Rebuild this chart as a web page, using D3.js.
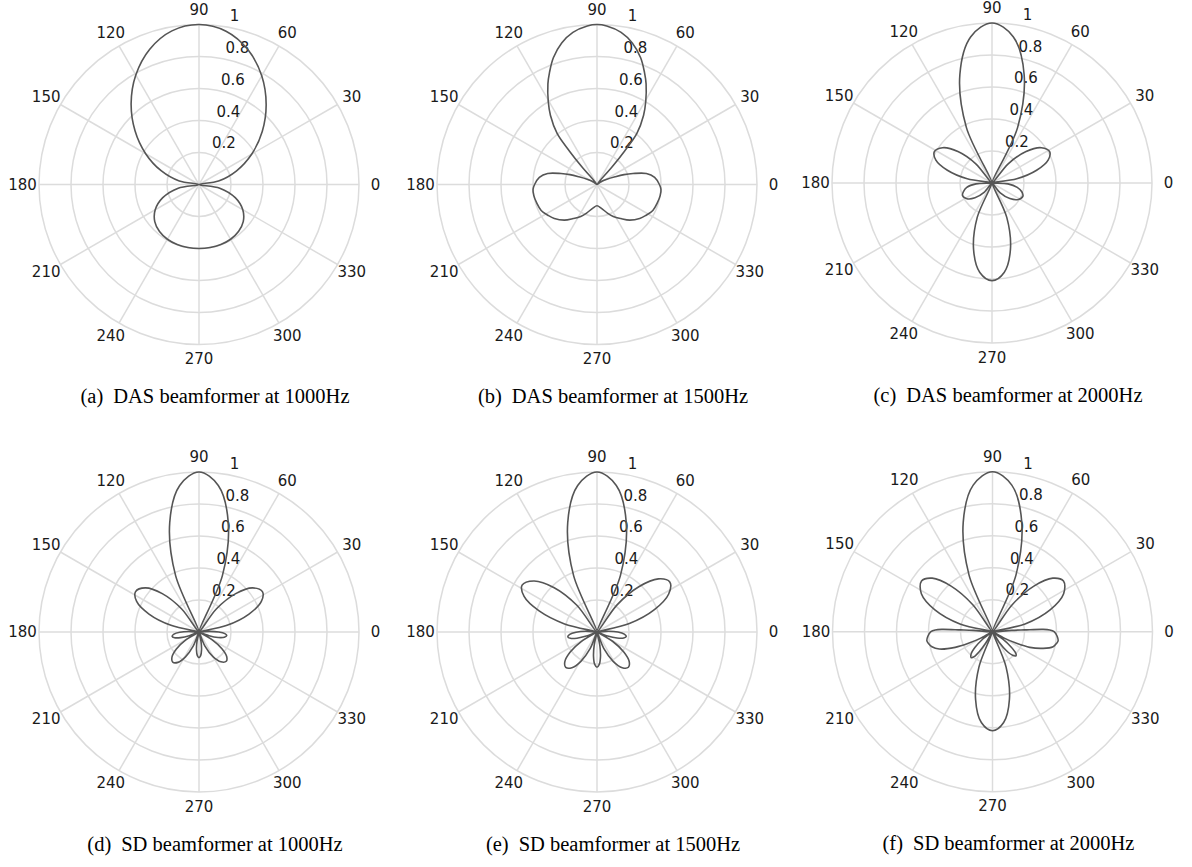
<!DOCTYPE html>
<html><head><meta charset="utf-8">
<script src="https://cdn.jsdelivr.net/npm/d3@7"></script>
<style>body{margin:0;background:#fff} svg{display:block}</style>
</head><body>
<svg id="chart" width="1192" height="867"></svg>
<script>
// ---- tick labels ----
const angleTicks = [0,30,60,90,120,150,180,210,240,270,300,330];
const radialTicks = [0.2,0.4,0.6,0.8,1];
const radialTickLabels = ["0.2","0.4","0.6","0.8","1"];
const panelTags = ["(a)","(b)","(c)","(d)","(e)","(f)"];
const panelTitles = ["DAS beamformer at 1000Hz","DAS beamformer at 1500Hz","DAS beamformer at 2000Hz",
                     "SD beamformer at 1000Hz","SD beamformer at 1500Hz","SD beamformer at 2000Hz"];

// ---- series (angle in degrees, normalised gain) ----
const dasAng1000 = [0,10,20,30,40,50,60,70,80,90,100,110,120,130,140,150,160,170,180,190,200,210,220,230,240,250,260,270,280,290,300,310,320,330,340,350];
const dasGain1000 = [0,.124,.25,.381,.516,.653,.784,.896,.973,1,.975,.9,.79,.66,.522,.385,.252,.125,0,.132,.241,.316,.361,.384,.395,.399,.4,.4,.4,.399,.395,.384,.361,.316,.241,.132];

const dasAng1500 = [0,7,12.6,17,20,23,28,35,45,49.5,50.5,52,56,59.5,64,67,71,76,81,86.5,90,93.5,99,104,109,113,116,120.5,124,128,129.5,130.5,135,145,152,157,160,163,167.4,173,180,184.3,190,197,205,212,218.5,227.5,235,243,250,260,270,280,290,297,305,312.5,321.5,328,335,343,350,355.7];
const dasGain1500 = [.39,.363,.316,.235,.18,.123,.07,.03,0,.15,.27,.405,.52,.6,.7,.76,.838,.912,.963,.993,1,.993,.963,.912,.838,.76,.7,.6,.52,.405,.27,.15,0,.03,.07,.123,.18,.235,.316,.363,.39,.401,.401,.394,.385,.362,.341,.302,.26,.224,.19,.15,.133,.15,.19,.224,.26,.302,.341,.362,.385,.394,.401,.401];

const dasAng2000 = [3.5,9.75,16,22.25,28.5,35.6,42.75,49.9,57,65.25,73.5,81.75,90,98.25,106.5,114.75,123,130.1,137.25,144.4,151.5,157.75,164,170.25,176.5,183.1,189.75,196.4,203,212,221,230,239,246.75,254.5,262.25,270,277.75,285.5,293.25,301,310,319,328,337,343.6,350.25,356.9];
const dasGain2000 = [0,.157,.29,.379,.41,.379,.29,.157,0,.383,.707,.924,1,.924,.707,.383,0,.157,.29,.379,.41,.379,.29,.157,0,.1,.16,.185,.2,.185,.141,.077,0,.234,.431,.564,.61,.564,.431,.234,0,.08,.148,.194,.21,.194,.16,.1];

const sdAng1000 = [0,3.5,7,13.4,19.75,26.1,32.5,39.4,46.25,53.1,60,67.5,75,82.5,90,97.5,105,112.5,120,126.9,133.75,140.6,147.5,153.9,160.25,166.6,173,177,181,185,189,193,197,201,205,211,217,223,229,235.25,241.5,247.75,254,258,262,266,270,274,278,282,286,292.75,299.5,306.25,313,318.5,324,329.5,335,339.5,344,348.5,353,356.5];
const sdGain1000 = [.124,.067,0,.18,.332,.434,.47,.434,.332,.18,0,.383,.707,.924,1,.924,.707,.383,0,.18,.332,.434,.47,.434,.332,.18,0,.065,.12,.157,.17,.157,.12,.065,0,.096,.177,.231,.25,.231,.177,.096,0,.061,.113,.148,.16,.148,.113,.061,0,.096,.177,.231,.25,.231,.177,.096,0,.067,.124,.162,.175,.162];

const sdAng1500 = [0,3.9,8,14.6,21.25,27.9,34.5,40.9,47.25,53.6,60,67.5,75,82.5,90,97.5,105,112.5,120,127,134,141,148,154,160,166,172,176.4,180.75,185.1,189.5,193.4,197.25,201.1,205,210.9,216.75,222.6,228.5,234.9,241.25,247.6,254,258,262,266,270,274,278,282,286,292.4,298.8,305.3,311.7,317.5,323.3,329.2,335,339.1,343.25,347.4,351.5,355.6];
const sdGain1500 = [.131,.071,0,.209,.385,.507,.552,.507,.385,.209,0,.383,.707,.924,1,.924,.707,.383,0,.209,.385,.507,.552,.507,.385,.209,0,.071,.131,.171,.185,.171,.131,.071,0,.113,.209,.273,.295,.273,.209,.113,0,.084,.156,.203,.22,.203,.156,.084,0,.113,.209,.273,.295,.273,.209,.113,0,.071,.131,.171,.185,.171];

const sdAng2000 = [0,1.7,2.6,3.2,4,6,13.4,20.75,28.1,35.5,41.6,47.75,53.9,60,67.5,75,82.5,90,97.5,105,112.5,120,126.1,132.25,138.4,144.5,151.9,159.25,166.6,174,176,176.8,177.4,178.3,180,184,188,190.3,193.9,198,202.8,205.9,209,213,217.45,221.9,226.35,230.8,233.6,236.4,239.2,242,249,256,263,270,277,284,291,298,302.15,306.3,310.45,314.6,317.7,320.8,323.9,327,331,334.1,337.2,341.8,346.1,349.7,352,356];
const sdGain2000 = [.385,.358,.317,.2,.12,0,.209,.385,.504,.545,.504,.385,.209,0,.383,.707,.924,1,.924,.707,.383,0,.209,.385,.504,.545,.504,.385,.209,0,.12,.2,.317,.358,.385,.405,.414,.407,.39,.35,.253,.167,.08,0,.08,.148,.194,.21,.194,.148,.08,0,.237,.437,.572,.619,.572,.437,.237,0,.08,.148,.194,.21,.194,.148,.08,0,.08,.167,.253,.333,.39,.407,.414,.405];

const panelAngles = [dasAng1000, dasAng1500, dasAng2000, sdAng1000, sdAng1500, sdAng2000];
const panelGains  = [dasGain1000, dasGain1500, dasGain2000, sdGain1000, sdGain1500, sdGain2000];

// ---- layout ----
const centers = [[199,184.5],[597,184.5],[992,183],[199,632],[597,632],[992.5,631.7]];
const R = 160;
const rScale = d3.scaleLinear().domain([0,1]).range([0,R]);
const toRad = deg => (90 - deg) * Math.PI / 180;   // d3 radial angle (0 = up, clockwise)
const rad = deg => deg * Math.PI / 180;
const line = d3.lineRadial()
  .angle(d => toRad(d[0]))
  .radius(d => rScale(d[1]))
  .curve(d3.curveCatmullRomClosed.alpha(0.5));

const svg = d3.select("#chart");
const labelFont = "'DejaVu Sans', sans-serif";

centers.forEach(([cx, cy], i) => {
  const g = svg.append("g").attr("transform", `translate(${cx},${cy})`);
  g.selectAll("circle.ring").data(radialTicks).join("circle")
    .attr("r", d => rScale(d)).attr("fill", "none")
    .attr("stroke", "#dcdcdc").attr("stroke-width", 1.5);
  g.selectAll("line.spoke").data(angleTicks).join("line")
    .attr("x1", 0).attr("y1", 0)
    .attr("x2", d => rScale(1) * Math.cos(rad(d)))
    .attr("y2", d => -rScale(1) * Math.sin(rad(d)))
    .attr("stroke", "#dcdcdc").attr("stroke-width", 1.5);
  g.selectAll("text.ang").data(angleTicks).join("text")
    .attr("x", d => rScale(1.103) * Math.cos(rad(d)))
    .attr("y", d => -rScale(1.092) * Math.sin(rad(d)))
    .attr("text-anchor", "middle").attr("dominant-baseline", "central")
    .attr("font-family", labelFont).attr("font-size", 15).attr("fill", "#1a1a1a")
    .text(d => String(d));
  g.selectAll("text.rad").data(radialTicks).join("text")
    .attr("x", d => rScale(d) * Math.cos(rad(82)) + 8.6)
    .attr("y", d => -rScale(d) * Math.sin(rad(82)) - 9.6)
    .attr("text-anchor", "start").attr("dominant-baseline", "central")
    .attr("font-family", labelFont).attr("font-size", 15).attr("fill", "#1a1a1a")
    .text((d, k) => radialTickLabels[k]);
  const pts = panelAngles[i].map((a, k) => [a, panelGains[i][k]]);
  g.append("path").attr("d", line(pts))
    .attr("fill", "none").attr("stroke", "#555").attr("stroke-width", 1.6)
    .attr("stroke-linejoin", "round");
  const t = svg.append("text")
    .attr("x", cx + 16).attr("y", cy + 218.5)
    .attr("text-anchor", "middle")
    .attr("font-family", "'Liberation Serif', 'Times New Roman', serif")
    .attr("font-size", 20.5).attr("fill", "#000");
  t.append("tspan").text(panelTags[i]);
  t.append("tspan").attr("dx", 10).text(panelTitles[i]);
});
</script>
</body></html>
